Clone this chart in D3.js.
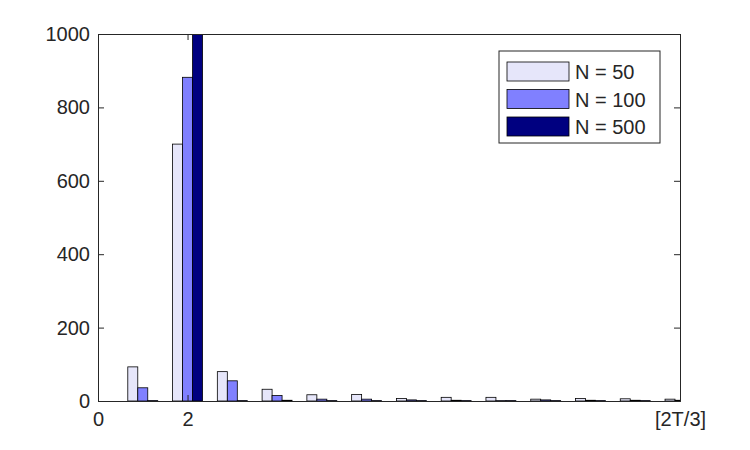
<!DOCTYPE html>
<html>
<head>
<meta charset="utf-8">
<script src="https://d3js.org/d3.v7.min.js"></script>
<style>
  body { margin: 0; background: #fff; font-family: "Liberation Sans", Arial, sans-serif; }
  svg text { font-family: "Liberation Sans", Arial, sans-serif; fill: #262626; }
</style>
</head>
<body>
<svg id="chart" width="750" height="450"></svg>
<script>
// group positions on the x axis
const groups = [1, 2, 3, 4, 5, 6, 7, 8, 9, 10, 11, 12, 13];

// counts per group
const n50 = [93, 700, 80, 32, 17, 18, 7, 10, 10, 5, 7, 6, 5];
const n100 = [36, 882, 55, 15, 5, 5, 3, 2, 1, 3, 2, 2, 2];
const n500 = [1, 1000, 1, 2, 1, 1, 1, 1, 1, 1, 1, 1, 1];

const seriesNames = ["N = 50", "N = 100", "N = 500"];
const seriesColors = ["#e6e6fa", "#8080ff", "#000080"];

const xTicks = [0, 2, 13];
const xTickLabels = ["0", "2", "[2T/3]"];
const yTicks = [0, 200, 400, 600, 800, 1000];

const margin = { left: 98, right: 70, top: 34, bottom: 49 };
const width = 750, height = 450;
const fontSize = 20;

const svg = d3.select("#chart");

const x = d3.scaleLinear().domain([0, 13]).range([margin.left, width - margin.right]);
const y = d3.scaleLinear().domain([0, 1000]).range([height - margin.bottom, margin.top]);

// clip to the axes box
svg.append("clipPath").attr("id", "clip")
  .append("rect")
  .attr("x", x(0)).attr("y", y(1000))
  .attr("width", x(13) - x(0)).attr("height", y(0) - y(1000));

const barW = 0.223; // in x units
const allSeries = [n50, n100, n500];

const bars = svg.append("g").attr("clip-path", "url(#clip)");
allSeries.forEach((vals, si) => {
  bars.append("g")
    .selectAll("rect")
    .data(groups.map((g, i) => ({ g, v: vals[i] })))
    .enter().append("rect")
    .attr("x", d => x(d.g + (si - 1.5) * barW))
    .attr("width", x(barW) - x(0))
    .attr("y", d => y(d.v))
    .attr("height", d => y(0) - y(d.v))
    .attr("fill", seriesColors[si])
    .attr("stroke", "#000")
    .attr("stroke-width", 0.8);
});

// axes: box with ticks inside
const axisG = svg.append("g");
const tickLen = 6;

const yAxisL = d3.axisLeft(y).tickValues(yTicks).tickSize(-tickLen).tickPadding(8).tickFormat(d3.format("d"));
axisG.append("g").attr("transform", `translate(${x(0)},0)`).call(yAxisL);

const yAxisR = d3.axisRight(y).tickValues(yTicks).tickSize(-tickLen).tickFormat("");
axisG.append("g").attr("transform", `translate(${x(13)},0)`).call(yAxisR);

const xAxisB = d3.axisBottom(x).tickValues(xTicks).tickSize(-tickLen).tickPadding(11)
  .tickFormat((d, i) => xTickLabels[i]);
axisG.append("g").attr("transform", `translate(0,${y(0)})`).call(xAxisB);

const xAxisT = d3.axisTop(x).tickValues(xTicks).tickSize(-tickLen).tickFormat("");
axisG.append("g").attr("transform", `translate(0,${y(1000)})`).call(xAxisT);

axisG.selectAll(".domain").attr("stroke", "#262626").attr("stroke-width", 1);
axisG.selectAll(".tick line").attr("stroke", "#262626");
axisG.selectAll(".tick text").attr("font-size", fontSize).attr("fill", "#262626");

// legend
const legend = svg.append("g").attr("transform", "translate(499,51)");
legend.append("rect")
  .attr("width", 161).attr("height", 92)
  .attr("fill", "#fff").attr("stroke", "#262626").attr("stroke-width", 1);

const items = legend.selectAll("g.item")
  .data(seriesNames)
  .enter().append("g")
  .attr("class", "item")
  .attr("transform", (d, i) => `translate(8,${11 + i * 27.5})`);

items.append("rect")
  .attr("width", 62).attr("height", 19)
  .attr("fill", (d, i) => seriesColors[i])
  .attr("stroke", "#000").attr("stroke-width", 0.8);

items.append("text")
  .attr("x", 68).attr("y", 17)
  .attr("font-size", fontSize)
  .text(d => d);
</script>
</body>
</html>
